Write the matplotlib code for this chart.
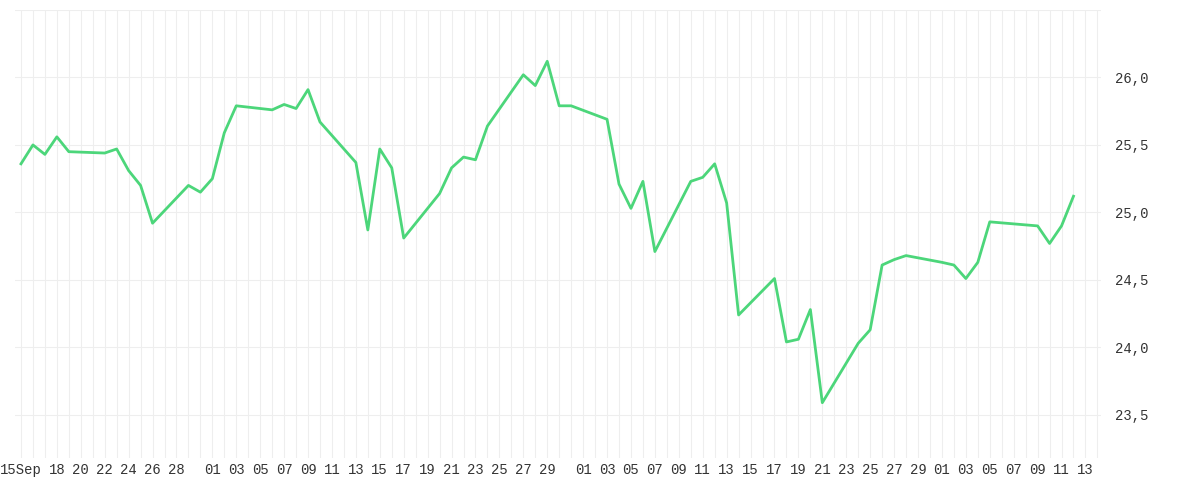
import numpy as np
import pandas as pd
import matplotlib.pyplot as plt
import matplotlib.dates as mdates
from matplotlib.ticker import FuncFormatter, FixedLocator

dates = pd.to_datetime([
    "2014-09-15", "2014-09-16", "2014-09-17", "2014-09-18", "2014-09-19",
    "2014-09-22", "2014-09-23", "2014-09-24", "2014-09-25", "2014-09-26",
    "2014-09-29", "2014-09-30", "2014-10-01", "2014-10-02", "2014-10-03",
    "2014-10-06", "2014-10-07", "2014-10-08", "2014-10-09", "2014-10-10",
    "2014-10-13", "2014-10-14", "2014-10-15", "2014-10-16", "2014-10-17",
    "2014-10-20", "2014-10-21", "2014-10-22", "2014-10-23", "2014-10-24",
    "2014-10-27", "2014-10-28", "2014-10-29", "2014-10-30", "2014-10-31",
    "2014-11-03", "2014-11-04", "2014-11-05", "2014-11-06", "2014-11-07",
    "2014-11-10", "2014-11-11", "2014-11-12", "2014-11-13", "2014-11-14",
    "2014-11-17", "2014-11-18", "2014-11-19", "2014-11-20", "2014-11-21",
    "2014-11-24", "2014-11-25", "2014-11-26", "2014-11-27", "2014-11-28",
    "2014-12-01", "2014-12-02", "2014-12-03", "2014-12-04", "2014-12-05",
    "2014-12-09", "2014-12-10", "2014-12-11", "2014-12-12",
])
prices = [
    25.36, 25.50, 25.43, 25.56, 25.45,
    25.44, 25.47, 25.31, 25.20, 24.92,
    25.20, 25.15, 25.25, 25.59, 25.79,
    25.76, 25.80, 25.77, 25.91, 25.67,
    25.37, 24.87, 25.47, 25.33, 24.81,
    25.14, 25.33, 25.41, 25.39, 25.64,
    26.02, 25.94, 26.12, 25.79, 25.79,
    25.69, 25.21, 25.03, 25.23, 24.71,
    25.23, 25.26, 25.36, 25.07, 24.24,
    24.51, 24.04, 24.06, 24.28, 23.59,
    24.03, 24.13, 24.61, 24.65, 24.68,
    24.63, 24.61, 24.51, 24.63, 24.93,
    24.90, 24.77, 24.90, 25.12,
]
y_ticks = [23.5, 24.0, 24.5, 25.0, 25.5, 26.0]

fig = plt.figure(figsize=(12, 5), dpi=100)
ax = fig.add_axes([0.0125, 0.084, 0.905, 0.896])
ax.plot(dates, prices, color="#4cd67a", lw=2)

start = pd.Timestamp("2014-09-15")
ax.set_xlim(start - pd.Timedelta(hours=12), start + pd.Timedelta(days=90.3))
ax.set_ylim(23.18, 26.5)

ax.xaxis.set_minor_locator(mdates.DayLocator())
tick_days = [start] + list(pd.date_range("2014-09-18", "2014-09-28", freq="2D")) \
    + list(pd.date_range("2014-10-01", "2014-10-29", freq="2D")) \
    + list(pd.date_range("2014-11-01", "2014-11-29", freq="2D")) \
    + list(pd.date_range("2014-12-01", "2014-12-13", freq="2D"))
ax.set_xticks(tick_days)
ax.set_xticklabels(["15Sep"] + [d.strftime("%d") for d in tick_days[1:]])

ax.yaxis.tick_right()
ax.yaxis.set_major_locator(FixedLocator(y_ticks))
ax.yaxis.set_major_formatter(FuncFormatter(lambda v, p: f"{v:.1f}".replace(".", ",")))
ax.axhline(26.5, color="#eeeeee", lw=0.8)

ax.grid(which="both", axis="x", color="#eeeeee", lw=0.8)
ax.grid(which="major", axis="y", color="#eeeeee", lw=0.8)
ax.tick_params(which="both", length=0, labelsize=10, colors="#333333")
ax.tick_params(axis="y", pad=10)
for lab in ax.get_xticklabels() + ax.get_yticklabels():
    lab.set_family("Liberation Mono")
for s in ax.spines.values():
    s.set_visible(False)

fig.savefig("out.png")
